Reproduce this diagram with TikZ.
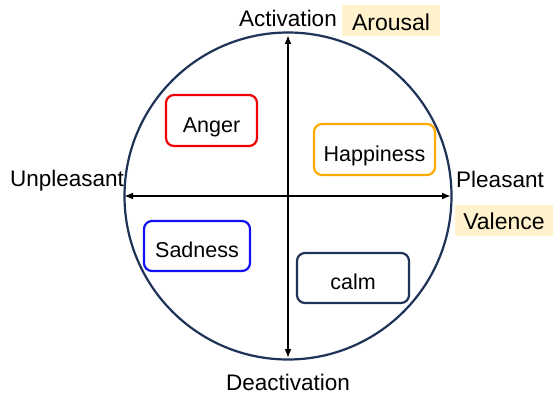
\documentclass[tikz,border=0pt]{standalone}
\usepackage{fontspec}
\setmainfont{Liberation Sans}
\usetikzlibrary{arrows.meta}
\definecolor{navy}{HTML}{1F3358}
\definecolor{hilite}{HTML}{FFF2CC}
\definecolor{angerred}{HTML}{F00000}
\definecolor{happyorange}{HTML}{FFAA00}
\definecolor{sadblue}{HTML}{1010F0}
\tikzset{
  emo/.style={draw=#1, line width=2.2pt, rounded corners=8pt, inner sep=0pt, text=black,
    text height=23pt, text depth=0pt, font=\fontsize{21.5}{25}\selectfont},
  axis/.style={line width=1.8pt, {Latex[length=9pt,width=7pt]}-{Latex[length=9pt,width=7pt]}},
  lbl/.style={font=\fontsize{22.5}{27}\selectfont, inner sep=0pt},
  tag/.style={fill=hilite, font=\fontsize{23}{27}\selectfont, inner sep=0pt,
    text height=19pt, text depth=0pt, minimum width=98pt, minimum height=31pt}
}
\begin{document}
\begin{tikzpicture}[x=1pt, y=-1pt]
  \useasboundingbox (0,0) rectangle (556,396);
  % outer circle
  \draw[navy, line width=2.2pt] (288,196) circle[radius=163.5];
  % axes
  \coordinate (top) at (288,35);
  \coordinate (bot) at (288,358);
  \coordinate (lft) at (124,196);
  \coordinate (rgt) at (451,196);
  \draw[axis] (bot) -- (top);
  \draw[axis] (lft) -- (rgt);
  % axis labels
  \node[lbl] (act) at (288,18) {Activation};
  \node[tag] (aro) at (391,21) {Arousal};
  \node[lbl] (unp) at (67,181) {Unpleasant};
  \node[lbl] (ple) at (500,179) {Pleasant};
  \node[tag] (val) at (504,220) {Valence};
  \node[lbl] (deact) at (288,382) {Deactivation};
  % emotions
  \node[emo=angerred, minimum width=91pt, minimum height=51pt] (anger) at (211.5,120.5) {Anger};
  \node[emo=happyorange, minimum width=121pt, minimum height=51pt] (happy) at (374.5,149.5) {Happiness};
  \node[emo=sadblue, minimum width=106pt, minimum height=50pt] (sad) at (197,246) {Sadness};
  \node[emo=navy, minimum width=112pt, minimum height=50pt] (calm) at (353,278) {calm};
\end{tikzpicture}
\end{document}
